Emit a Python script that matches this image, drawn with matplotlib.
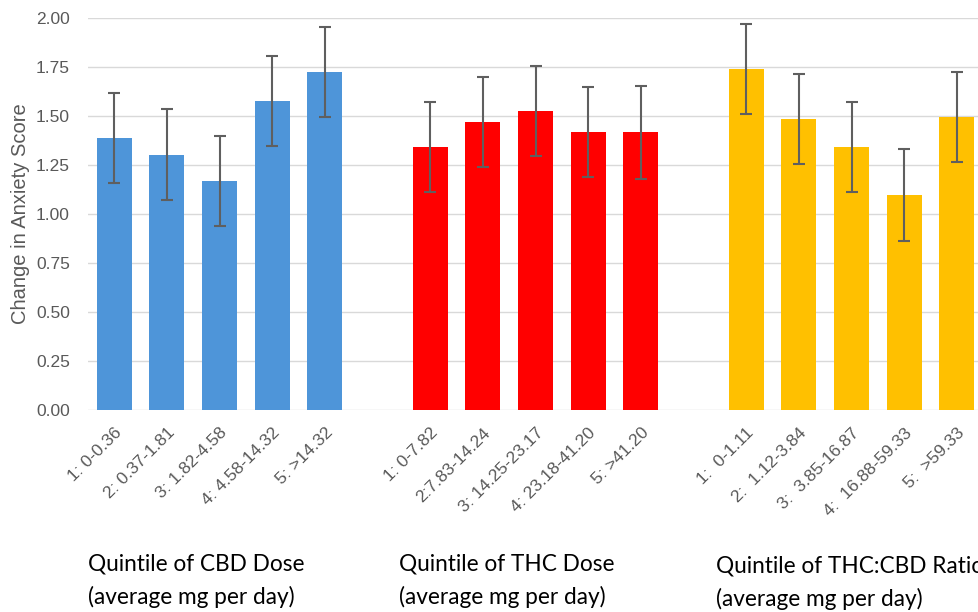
import numpy as np
import matplotlib.pyplot as plt
import matplotlib.transforms as mtransforms

# quintile labels for each group
cbd_labels = ["1: 0-0.36", "2: 0.37-1.81", "3: 1.82-4.58", "4: 4.58-14.32", "5: >14.32"]
thc_labels = ["1: 0-7.82", "2:7.83-14.24", "3: 14.25-23.17", "4: 23.18-41.20", "5: >41.20"]
ratio_labels = ["1:  0-1.11", "2:  1.12-3.84", "3:  3.85-16.87", "4:  16.88-59.33", "5:  >59.33"]

# mean change in anxiety score and error bar half-width
cbd_vals = [1.388, 1.303, 1.167, 1.575, 1.724]
cbd_err = [0.229, 0.231, 0.230, 0.230, 0.231]
thc_vals = [1.342, 1.469, 1.525, 1.418, 1.418]
thc_err = [0.230, 0.229, 0.229, 0.228, 0.237]
ratio_vals = [1.740, 1.485, 1.342, 1.097, 1.495]
ratio_err = [0.229, 0.229, 0.228, 0.233, 0.229]

group_titles = ["Quintile of CBD Dose\n(average mg per day)",
                "Quintile of THC Dose\n(average mg per day)",
                "Quintile of THC:CBD Ratio\n(average mg per day)"]
colors = ["#4E95D9", "#FF0000", "#FFC000"]

plt.rcParams['font.family'] = ['Liberation Sans', 'DejaVu Sans']

fig = plt.figure(figsize=(9.79, 6.12), dpi=100)
ax = fig.add_axes([88 / 979, 1 - 410 / 612, 1 - 88 / 979, (410 - 18) / 612])

groups = [(cbd_labels, cbd_vals, cbd_err),
          (thc_labels, thc_vals, thc_err),
          (ratio_labels, ratio_vals, ratio_err)]

ticks, ticklabels = [], []
for g, (labels, vals, err) in enumerate(groups):
    x = np.arange(len(vals)) + g * 6
    ax.bar(x, vals, width=0.665, color=colors[g], zorder=2)
    ax.errorbar(x, vals, yerr=err, fmt='none', ecolor='#5f5f5f',
                elinewidth=1.5, capsize=4, capthick=1.5, zorder=3)
    ticks.extend(x)
    ticklabels.extend(labels)

ax.set_xlim(-0.5, 16.42)
ax.set_ylim(0, 2.0)
ax.set_yticks(np.arange(0, 2.01, 0.25))
ax.set_yticklabels([f"{v:.2f}" for v in np.arange(0, 2.01, 0.25)],
                   fontsize=12.5, color='#595959')
ax.set_xticks(ticks)
ax.set_xticklabels(ticklabels, rotation=45, ha='right', rotation_mode='anchor',
                   fontsize=12.5, color='#595959')
# nudge rotated labels a little to the right
shift = mtransforms.ScaledTranslation(4 / 100, 0, fig.dpi_scale_trans)
for lbl in ax.get_xticklabels():
    lbl.set_transform(lbl.get_transform() + shift)
ax.tick_params(axis='both', length=0)
ax.tick_params(axis='x', pad=11)
ax.tick_params(axis='y', pad=13)
ax.grid(axis='y', color='#D9D9D9', linewidth=1, zorder=0)
ax.set_axisbelow(True)
for s in ax.spines.values():
    s.set_visible(False)

ax.set_ylabel("Change in Anxiety Score", fontsize=14.5, color='#595959', labelpad=4)

# group captions below the tick labels
title_pos = [(88, 553), (399, 553), (716, 555)]
for (px, py), t in zip(title_pos, group_titles):
    fig.text(px / 979, 1 - py / 612, t, fontsize=16.3, color='black',
             family=['Lato', 'DejaVu Sans'], ha='left', va='top', linespacing=1.65)

fig.savefig("out.png", dpi=100)
